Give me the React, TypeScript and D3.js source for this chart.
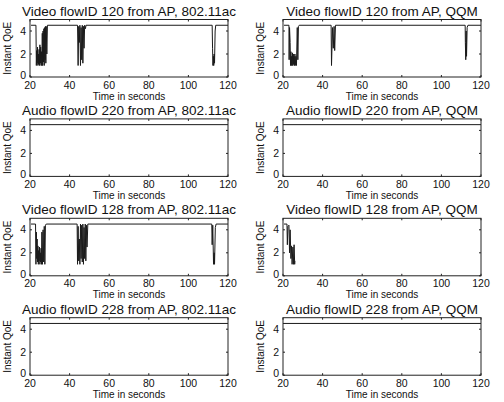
import React from 'react'
import * as d3 from 'd3'

type Pt = [number, number]

// time (s), instant QoE
const video120ac: Pt[] = [
  [20.5, 4.5], [23, 4.5], [23.2, 1.0], [23.4, 2.3], [23.6, 1.2], [23.8, 2.6], [24.0, 1.0], [24.2, 2.0],
  [24.4, 1.1], [24.6, 2.4], [24.8, 1.0], [25.0, 2.8], [25.2, 1.2], [25.4, 2.6], [25.6, 1.0], [25.8, 2.2],
  [26.0, 1.0], [26.2, 3.8], [26.4, 1.0], [26.6, 4.0], [26.8, 1.3], [27.0, 4.2], [27.2, 1.0], [27.4, 4.3],
  [27.6, 1.5], [27.8, 4.4], [28.0, 1.2], [28.2, 4.4], [28.5, 2.0], [28.8, 4.5], [44, 4.5], [44.3, 1.0],
  [44.6, 4.4], [44.9, 3.0], [45.2, 4.5], [45.5, 1.0], [45.8, 4.3], [46.1, 1.5], [46.4, 4.5], [46.7, 1.2],
  [47.0, 4.4], [47.3, 2.5], [47.6, 4.5], [48, 4.2], [48.3, 4.5], [112, 4.5], [112.2, 2.5], [112.4, 1.0],
  [112.6, 1.8], [112.8, 1.0], [113.0, 2.0], [113.2, 1.2], [113.5, 4.0], [113.8, 4.5], [120, 4.5],
]

const video120qqm: Pt[] = [
  [20.5, 4.5], [23, 4.5], [23.1, 1.5], [23.3, 4.3], [23.6, 3.0], [23.8, 1.0], [24.0, 2.2], [24.2, 1.0],
  [24.4, 1.8], [24.6, 1.0], [24.8, 2.1], [25.0, 1.0], [25.2, 2.0], [25.4, 1.1], [25.6, 1.8], [25.8, 1.0],
  [26.0, 2.0], [26.2, 1.0], [26.5, 1.8], [26.8, 1.0], [27.2, 4.3], [27.5, 1.5], [27.8, 4.4], [28.2, 4.5],
  [44.3, 4.5], [44.5, 1.0], [45.0, 4.3], [45.4, 2.5], [45.8, 4.4], [46.1, 2.3], [46.5, 4.5],
  [112, 4.5], [112.1, 3.0], [112.3, 1.5], [112.5, 4.0], [112.7, 1.8], [113.0, 4.3], [113.4, 4.5], [120, 4.5],
]

const audio220ac: Pt[] = [[20, 4.5], [120, 4.5]]
const audio220qqm: Pt[] = [[20, 4.5], [120, 4.5]]

const video128ac: Pt[] = [
  [20.5, 4.5], [22.8, 4.5], [23.0, 1.0], [23.2, 3.8], [23.4, 1.5], [23.6, 3.2], [23.8, 1.2], [24.0, 2.6],
  [24.2, 1.0], [24.4, 2.2], [24.6, 1.3], [24.8, 2.5], [25.0, 1.0], [25.2, 2.0], [25.4, 1.2], [25.6, 2.4],
  [25.8, 1.0], [26.0, 3.8], [26.3, 1.0], [26.6, 4.0], [26.9, 1.2], [27.2, 4.3], [27.5, 1.0], [27.8, 4.4],
  [28.2, 4.5], [43.8, 4.5], [44.0, 1.0], [44.3, 4.3], [44.6, 1.3], [44.9, 3.2], [45.2, 1.0], [45.5, 4.5],
  [45.8, 1.5], [46.1, 4.4], [46.4, 1.2], [46.7, 4.5], [47.0, 1.0], [47.3, 4.2], [47.6, 1.5], [47.9, 4.5],
  [48.2, 1.3], [48.5, 4.4], [48.8, 2.5], [49.2, 4.5], [111.8, 4.5], [112.0, 2.7], [112.3, 4.4], [112.7, 1.0],
  [113.0, 2.0], [113.2, 1.0], [113.6, 4.2], [114.0, 4.5], [120, 4.5],
]

const video128qqm: Pt[] = [
  [20.5, 4.5], [22.0, 4.5], [22.2, 2.7], [22.5, 4.3], [23.0, 4.4], [23.3, 2.0], [23.6, 4.0], [24.0, 1.5],
  [24.3, 2.6], [24.6, 1.0], [25.0, 2.5], [25.3, 1.0], [25.6, 2.7], [25.9, 1.0], [26.0, 1.3],
]

const audio228ac: Pt[] = [[20, 4.5], [120, 4.5]]
const audio228qqm: Pt[] = [[20, 4.5], [120, 4.5]]

const titles = [
  'Video flowID 120 from AP, 802.11ac', 'Video flowID 120 from AP, QQM',
  'Audio flowID 220 from AP, 802.11ac', 'Audio flowID 220 from AP, QQM',
  'Video flowID 128 from AP, 802.11ac', 'Video flowID 128 from AP, QQM',
  'Audio flowID 228 from AP, 802.11ac', 'Audio flowID 228 from AP, QQM',
]
const series = [video120ac, video120qqm, audio220ac, audio220qqm, video128ac, video128qqm, audio228ac, audio228qqm]

const xTicks = [20, 40, 60, 80, 100, 120]
const yTicks = [0, 2, 4]

const W = 504
const H = 402
const font = '"Liberation Sans", Arial, Helvetica, sans-serif'

const Panel = ({ data, title, col, row }: { data: Pt[]; title: string; col: number; row: number }) => {
  const left = 30 + col * 253
  const right = left + 198
  const bottom = 77 + row * 99.4
  const top = bottom - 57.5
  const x = d3.scaleLinear().domain([20, 120]).range([left, right])
  const y = d3.scaleLinear().domain([0, 5]).range([bottom, top])
  const line = d3.line<Pt>().x(d => x(d[0])).y(d => y(d[1]))
  const cx = (left + right) / 2
  return (
    <g>
      <text x={cx} y={top - 4} textAnchor="middle" fontSize={13.5} fill="#111">{title}</text>
      <path d={line(data) || ''} fill="none" stroke="#1a1a1a" strokeWidth={1} />
      <rect x={left} y={top} width={right - left} height={bottom - top} fill="none" stroke="#222" strokeWidth={1} />
      {xTicks.map(t => (
        <g key={'x' + t}>
          <line x1={x(t)} x2={x(t)} y1={bottom} y2={bottom - 2} stroke="#222" />
          <line x1={x(t)} x2={x(t)} y1={top} y2={top + 2} stroke="#222" />
          <text x={x(t)} y={bottom + 11.5} textAnchor="middle" fontSize={10.5} fill="#111">{t}</text>
        </g>
      ))}
      {yTicks.map(t => (
        <g key={'y' + t}>
          <line x1={left} x2={left + 2} y1={y(t)} y2={y(t)} stroke="#222" />
          <line x1={right} x2={right - 2} y1={y(t)} y2={y(t)} stroke="#222" />
          <text x={left - 4} y={y(t) + (t === 0 ? 2 : 3.5)} textAnchor="end" fontSize={10.5} fill="#111">{t}</text>
        </g>
      ))}
      <text x={cx} y={bottom + 22.5} textAnchor="middle" fontSize={10} fill="#111">Time in seconds</text>
      <text transform={`translate(${left - 19},${(top + bottom) / 2}) rotate(-90)`} textAnchor="middle" fontSize={10} fill="#111">Instant QoE</text>
    </g>
  )
}

export default function App() {
  return (
    <svg width={W} height={H} style={{ position: 'absolute', left: 0, top: 0, background: '#fff' }} fontFamily={font}>
      <rect width={W} height={H} fill="#fff" />
      {series.map((s, i) => (
        <Panel key={i} data={s} title={titles[i]} col={i % 2} row={Math.floor(i / 2)} />
      ))}
    </svg>
  )
}
